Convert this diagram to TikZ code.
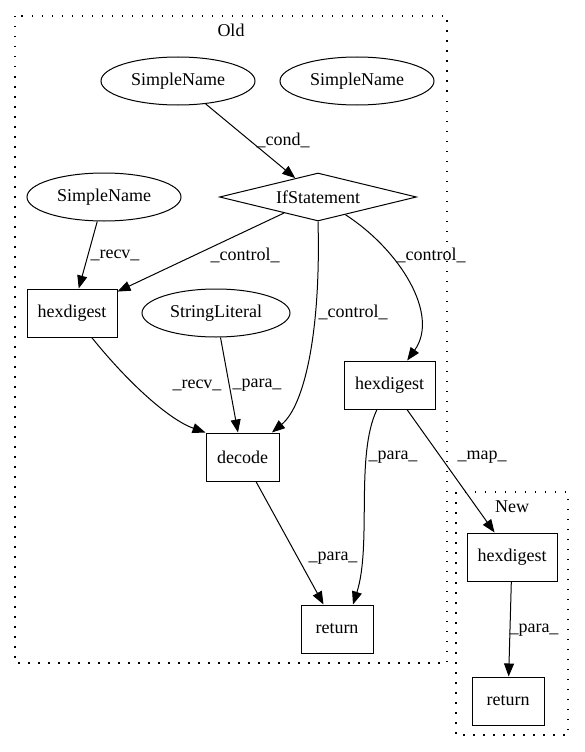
\documentclass[tikz,border=0pt]{standalone}
\usepackage{fontspec}
\setmainfont{Liberation Serif}
\usetikzlibrary{shapes.geometric,arrows.meta}

\begin{document}
\begin{tikzpicture}[x=1pt, y=-1pt, font=\fontsize{18}{21}\selectfont,
	opbox/.style={draw, rectangle, line width=1pt, minimum height=48pt, inner sep=0pt},
	termnode/.style={draw, ellipse, line width=1pt, minimum width=154pt, minimum height=48pt, inner sep=0pt},
	condnode/.style={draw, diamond, line width=1pt, aspect=4.1, minimum width=197pt, minimum height=48pt, inner sep=0pt},
	flowedge/.style={line width=1pt, -{Triangle[length=13pt, width=10pt]}},
	clusterbox/.style={line width=1.2pt, dash pattern=on 1.5pt off 8.5pt},
	lbl/.style={inner sep=0pt}]
			\useasboundingbox (0, 0) rectangle (584, 752);
			\draw[clusterbox] (15, 16) rectangle (447, 663);
			\node (OldLbl)at(231, 30) {Old};
			\draw[clusterbox] (456, 492) rectangle (568, 735);
			\node (NewLbl)at(512, 507) {New};
			\node[termnode] (SN1)at(178, 81) {SimpleName};
			\node[termnode] (SN2)at(357, 81) {SimpleName};
			\node[condnode] (IF)at(318, 197) {IfStatement};
			\node[termnode] (SN3)at(104, 197) {SimpleName};
			\node[opbox, minimum width=90pt] (HD1)at(72, 313) {hexdigest};
			\node[termnode, minimum width=148pt] (SL)at(216, 313) {StringLiteral};
			\node[opbox, minimum width=91pt] (HD2)at(389.5, 385) {hexdigest};
			\node[opbox, minimum width=73pt] (DEC)at(242.5, 457) {decode};
			\node[opbox, minimum width=72pt] (RET1)at(337, 629) {return};
			\node[opbox, minimum width=90pt] (HD3)at(512, 557) {hexdigest};
			\node[opbox, minimum width=72pt] (RET2)at(508, 701) {return};
			\draw[flowedge] (SN1) -- (IF) node[lbl] at(283, 140) {\_cond\_};
			\draw[flowedge] (SN3) -- (HD1) node[lbl] at(115, 255) {\_recv\_};
			\draw[flowedge] (IF) -- (HD1) node[lbl] at(245, 255) {\_control\_};
			\draw[flowedge] (IF.south) .. controls (321, 330) and (305, 405) .. (DEC) node[lbl] at(353, 312) {\_control\_};
			\draw[flowedge] (IF) .. controls (400, 250) and (440, 315) .. (HD2) node[lbl] at(431, 255) {\_control\_};
			\draw[flowedge] (HD1) .. controls (130, 385) and (170, 420) .. (DEC.north west) node[lbl] at(197, 385) {\_recv\_};
			\draw[flowedge] (SL) -- (DEC) node[lbl] at(257, 385) {\_para\_};
			\draw[flowedge] (HD2) -- (HD3) node[lbl] at(482, 457) {\_map\_};
			\draw[flowedge] ([xshift=-12.5pt]HD2.south) .. controls (355, 455) and (372, 545) .. ([xshift=16pt]RET1.north) node[lbl] at(393, 457) {\_para\_};
			\draw[flowedge] (DEC) -- (RET1) node[lbl] at(333, 558) {\_para\_};
			\draw[flowedge] (HD3) -- (RET2) node[lbl] at(534, 630) {\_para\_};
		\end{tikzpicture}
\end{document}
